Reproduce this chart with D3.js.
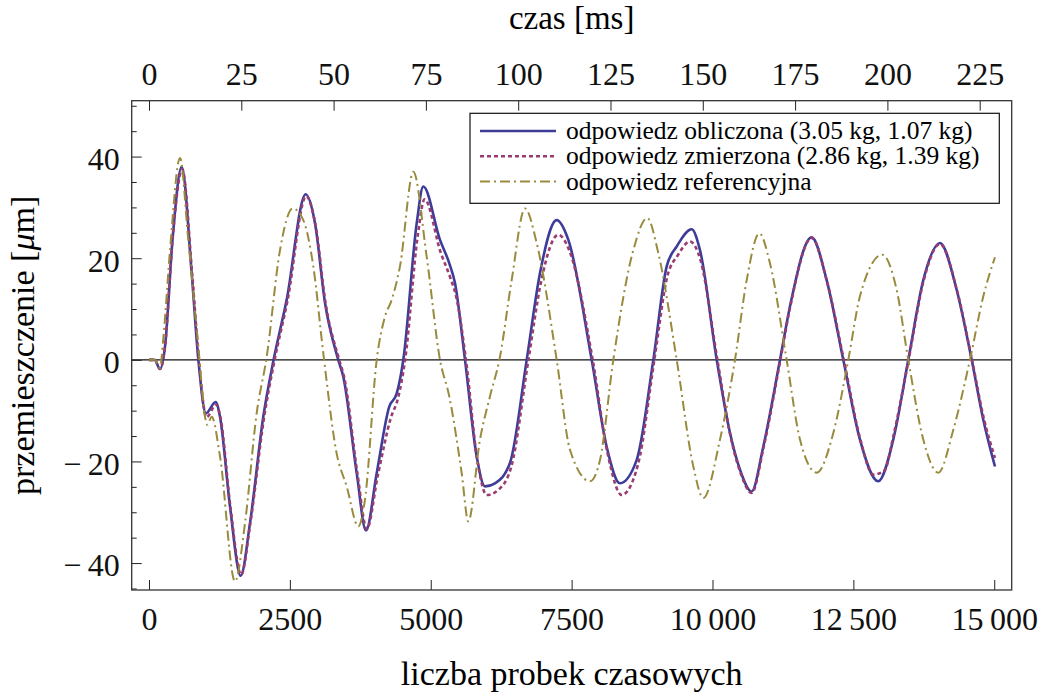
<!DOCTYPE html>
<html>
<head>
<meta charset="utf-8">
<script src="https://cdn.jsdelivr.net/npm/d3@7"></script>
<style>
  body { margin: 0; background: #fff; }
  svg { display: block; }
  svg text { font-family: "Liberation Serif", "Times New Roman", serif !important; }
  .axis path { display: none; }
  .axis line { stroke: #222; stroke-width: 1; }
  .axis text { font-size: 32px; fill: #111; }
</style>
</head>
<body>
<svg width="1045" height="698"></svg>
<script>
// x = sample number, y = displacement in micrometers
const obliczona = [
  [0, 0], [100, 0], [195, -1.8], [284, 2.6], [420, 24], [580, 38.0], [757, 17.1], [876, 0],
  [1011, -10.5], [1183, -8.3], [1260, -11.2], [1438, -28.9], [1627, -42.5], [1793, -32.1],
  [2028, -11.2], [2206, -0.3], [2443, 11.8], [2781, 32.6], [2946, 26.9], [3124, 11.2],
  [3359, 0], [3448, -3.3], [3686, -22.3], [3851, -33.6], [4041, -22.3], [4264, -9.2],
  [4396, -6.6], [4513, 0], [4751, 26.9], [4868, 34.1], [5164, 23.6], [5329, 19.0],
  [5430, 15.1], [5608, 0], [5815, -19.0], [5963, -24.9], [6140, -24.3], [6406, -20.3],
  [6703, 0], [6939, 17.1], [7235, 27.5], [7442, 23.6], [7856, 0], [8122, -17.1],
  [8359, -24.3], [8655, -19.7], [8950, 0], [9187, 18.4], [9365, 22.3], [9631, 25.7],
  [9778, 21.6], [10075, 0], [10311, -14.4], [10488, -21.6], [10695, -25.9], [10901, -17.1],
  [11198, 0], [11375, 10.5], [11760, 24.1], [12026, 15.7], [12321, 0], [12617, -15.7],
  [12942, -23.9], [13208, -15.7], [13475, 0], [13741, 15.7], [14037, 23.0], [14333, 13.8],
  [14600, 0], [14806, -11.8], [15013, -21.0]
];

const zmierzona = [
  [0, 0], [100, 0], [195, -1.8], [284, 2.6], [420, 24], [590, 37.5], [765, 17], [885, 0],
  [1020, -11.3], [1190, -8.8], [1270, -11.5], [1445, -29], [1635, -42.3], [1800, -32],
  [2040, -11.5], [2220, -0.5], [2455, 11.5], [2790, 32.2], [2955, 26.5], [3135, 11],
  [3375, 0], [3465, -3.5], [3700, -22.5], [3865, -33.3], [4060, -22.8], [4290, -11.5],
  [4420, -7.5], [4545, 0], [4770, 24.5], [4890, 31.6], [5180, 21], [5340, 16.4],
  [5450, 12.5], [5625, 0], [5830, -20], [5993, -26.6], [6199, -25.6], [6430, -21],
  [6733, 0], [6960, 15.5], [7264, 24.6], [7460, 21.5], [7874, 0], [8140, -18.5],
  [8389, -26.6], [8680, -20.5], [8968, 0], [9200, 16.5], [9380, 20.5], [9601, 23.3],
  [9790, 19.5], [10087, 0], [10320, -15], [10500, -22.3], [10695, -26.2], [10905, -17.3],
  [11205, 0], [11380, 10.5], [11760, 24.0], [12030, 15.5], [12330, 0], [12620, -15.5],
  [12853, -22.6], [13050, -21.8], [13220, -14.5], [13480, 0], [13745, 15.5], [14037, 22.8],
  [14340, 13.6], [14605, 0], [14810, -11.3], [15013, -19.3]
];

const referencyjna = [
  [0, 0], [100, 0], [195, -1.6], [260, 5], [373, 21.6], [550, 39.7], [697, 23.6], [876, 2.6],
  [994, -11.2], [1035, -12.8], [1112, -11.2], [1260, -19.0], [1526, -43.6], [1704, -32.1],
  [1911, -10.5], [2089, 0.6], [2325, 21.6], [2550, 29.8], [2738, 27.5], [2916, 18.4],
  [3093, 1.3], [3330, -18.4], [3508, -24.9], [3715, -32.8], [3833, -27.5], [4041, 0],
  [4188, 8.5], [4307, 11.8], [4454, 18.4], [4691, 37.0], [4928, 20.3], [5164, 0],
  [5329, -7.2], [5549, -22.3], [5667, -31.8], [5874, -15.7], [6051, -7.2], [6229, 0.6],
  [6436, 15.7], [6673, 29.8], [6880, 23.0], [7235, 0], [7471, -17.7], [7826, -23.9],
  [8004, -19.7], [8240, 0], [8595, 21.6], [8843, 27.9], [9039, 21.0], [9365, 0],
  [9660, -21.0], [9837, -27.2], [10133, -15.7], [10399, 0], [10607, 15.7], [10831, 24.9],
  [11020, 19.0], [11316, 0], [11553, -15.7], [11849, -22.2], [12144, -14.4], [12410, 0],
  [12617, 12.5], [13014, 20.7], [13268, 13.8], [13475, 0], [13741, -15.7], [14007, -22.2],
  [14273, -13.8], [14569, 0], [14806, 12.5], [15013, 20.2]
];

const legendLabels = [
  'odpowiedz obliczona (3.05 kg, 1.07 kg)',
  'odpowiedz zmierzona (2.86 kg, 1.39 kg)',
  'odpowiedz referencyjna'
];

const sampleTicks = [0, 2500, 5000, 7500, 10000, 12500, 15000];
const msTicks = [0, 25, 50, 75, 100, 125, 150, 175, 200, 225];
const yMajorTicks = [-40, -20, 0, 20, 40];
const yMinorTicks = [-45, -35, -30, -25, -15, -10, -5, 5, 10, 15, 25, 30, 35, 45, 50];

const SAMPLES_PER_MS = 65.52;
const SERIF = '"Liberation Serif", "Times New Roman", serif';

const svg = d3.select('svg');

// plot frame
const frameL = 131.7, frameR = 1011.7, frameT = 100.7, frameB = 590;

const x = d3.scaleLinear().domain([-307, 15310]).range([frameL, frameR]);
const xTop = d3.scaleLinear()
  .domain(x.domain().map(d => d / SAMPLES_PER_MS))
  .range([frameL, frameR]);
const y = d3.scaleLinear().domain([-45.3, 51]).range([frameB, frameT]);

// number format with thin space for thousands, like the original
const fmt = d => {
  let s = Math.abs(d) >= 10000 ? d3.format(',')(Math.abs(d)).replace(',', '\u2009') : String(Math.abs(d));
  return d < 0 ? '\u2212\u2009' + s : s;
};

// zero axis
svg.append('line')
  .attr('x1', frameL).attr('x2', frameR)
  .attr('y1', y(0)).attr('y2', y(0))
  .attr('stroke', '#111').attr('stroke-width', 1.1);

// curves
const line = d3.line()
  .x(d => x(d[0]))
  .y(d => y(d[1]))
  .curve(d3.curveMonotoneX);

const series = [
  { data: obliczona, color: '#3d3d99', width: 2.6, dash: null },
  { data: zmierzona, color: '#993d71', width: 2.6, dash: '4,3' },
  { data: referencyjna, color: '#998b3d', width: 2, dash: '10,4,2,4' }
];

series.forEach(s => {
  svg.append('path')
    .attr('d', line(s.data))
    .attr('fill', 'none')
    .attr('stroke', s.color)
    .attr('stroke-width', s.width)
    .attr('stroke-dasharray', s.dash);
});

// axes
svg.append('g').attr('class', 'axis')
  .attr('transform', `translate(0,${frameB})`)
  .call(d3.axisBottom(x).tickValues(sampleTicks).tickSize(-10).tickPadding(17).tickFormat(fmt));

svg.append('g').attr('class', 'axis')
  .attr('transform', `translate(0,${frameT})`)
  .call(d3.axisTop(xTop).tickValues(msTicks).tickSize(-10).tickPadding(16).tickFormat(fmt));

svg.append('g').attr('class', 'axis')
  .attr('transform', `translate(${frameL},0)`)
  .call(d3.axisLeft(y).tickValues(yMajorTicks).tickSize(-10).tickPadding(12).tickFormat(fmt))
  .selectAll('text').attr('dy', '0.4em');

svg.append('g').attr('class', 'axis')
  .attr('transform', `translate(${frameL},0)`)
  .call(d3.axisLeft(y).tickValues(yMinorTicks).tickSize(-5).tickFormat(''));

// frame
svg.append('rect')
  .attr('x', frameL).attr('y', frameT)
  .attr('width', frameR - frameL).attr('height', frameB - frameT)
  .attr('fill', 'none').attr('stroke', '#333').attr('stroke-width', 1.3);

// axis titles
svg.append('text')
  .attr('x', (frameL + frameR) / 2).attr('y', 29)
  .attr('text-anchor', 'middle').attr('font-size', 33)
  .text('czas [ms]');

svg.append('text')
  .attr('x', (frameL + frameR) / 2).attr('y', 685)
  .attr('text-anchor', 'middle').attr('font-size', 34)
  .text('liczba probek czasowych');

const yl = svg.append('text')
  .attr('transform', `translate(33.5,${(frameT + frameB) / 2}) rotate(-90)`)
  .attr('text-anchor', 'middle').attr('font-size', 34);
yl.append('tspan').text('przemieszczenie [');
yl.append('tspan').attr('font-style', 'italic').text('\u03bc');
yl.append('tspan').text('m]');

// legend
const lg = svg.append('g');
lg.append('rect')
  .attr('x', 470).attr('y', 113.3)
  .attr('width', 529.3).attr('height', 90)
  .attr('fill', '#fff').attr('stroke', '#111').attr('stroke-width', 1.2);

series.forEach((s, i) => {
  const cy = 131 + i * 25.3;
  lg.append('line')
    .attr('x1', 480).attr('x2', 556)
    .attr('y1', cy).attr('y2', cy)
    .attr('stroke', s.color).attr('stroke-width', s.width)
    .attr('stroke-dasharray', s.dash);
  lg.append('text')
    .attr('x', 566).attr('y', cy + 8)
    .attr('font-size', 25.5)
    .text(legendLabels[i]);
});

// make sure every text uses the serif face (d3 axes set sans-serif on their groups)
svg.selectAll('g').attr('font-family', SERIF);
svg.selectAll('text').attr('font-family', SERIF).style('font-family', SERIF);
</script>
</body>
</html>
